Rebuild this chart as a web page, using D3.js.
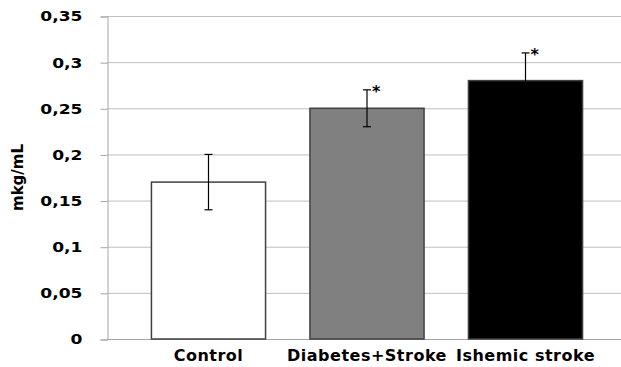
<!DOCTYPE html>
<html>
<head>
<meta charset="utf-8">
<script src="https://cdn.jsdelivr.net/npm/d3@7"></script>
<style>
  body { margin: 0; background: #fff; }
  svg text { font-family: "DejaVu Sans", Verdana, sans-serif; font-weight: bold; fill: #000; }
</style>
</head>
<body>
<svg id="chart" width="621" height="367"></svg>
<script>
// chart values
var groups = ['Control', 'Diabetes+Stroke', 'Ishemic stroke'];
var means = [0.17, 0.25, 0.28];
var errLow = [0.14, 0.23, 0.25];
var errHigh = [0.20, 0.27, 0.31];
var marks = ['', '*', '*'];
var barColors = ['#ffffff', '#808080', '#000000'];
var yTicks = [0, 0.05, 0.1, 0.15, 0.2, 0.25, 0.3, 0.35];

var svg = d3.select('#chart');

var plot = { left: 107, right: 621, top: 16, bottom: 339 };

var y = d3.scaleLinear().domain([0, 0.35]).range([plot.bottom, plot.top]);

var x = d3.scaleBand()
  .domain(groups)
  .range([129.25, 604.75])
  .paddingInner(0.28)
  .paddingOuter(0.14);

var fmt = function(d) { return String(d).replace('.', ','); };

// stretch a text horizontally, the reference font is wide
function widen(sel, k) {
  sel.each(function() {
    var w = this.getComputedTextLength();
    d3.select(this)
      .attr('textLength', w * k)
      .attr('lengthAdjust', 'spacingAndGlyphs');
  });
}

// gridlines
svg.append('g')
  .selectAll('line')
  .data(yTicks.filter(function(d) { return d > 0; }))
  .enter().append('line')
  .attr('x1', plot.left).attr('x2', plot.right)
  .attr('y1', function(d) { return y(d) + 0.5; })
  .attr('y2', function(d) { return y(d) + 0.5; })
  .attr('stroke', '#bfbfbf')
  .attr('stroke-width', 1);

// y axis
var yAxis = svg.append('g')
  .attr('transform', 'translate(' + (plot.left + 0.5) + ',0.5)')
  .call(d3.axisLeft(y).tickValues(yTicks).tickFormat(fmt).tickSize(7).tickPadding(18));
yAxis.select('.domain').attr('stroke', '#a6a6a6');
yAxis.selectAll('.tick line').attr('stroke', '#a6a6a6');
yAxis.selectAll('.tick text')
  .attr('font-size', 14)
  .attr('font-family', '"DejaVu Sans", Verdana, sans-serif')
  .attr('font-weight', 'bold')
  .attr('fill', '#000')
  .call(widen, 1.22);

// x baseline
svg.append('line')
  .attr('x1', plot.left).attr('x2', plot.right)
  .attr('y1', plot.bottom + 0.5).attr('y2', plot.bottom + 0.5)
  .attr('stroke', '#a6a6a6');

// bars
svg.append('g')
  .selectAll('rect')
  .data(groups)
  .enter().append('rect')
  .attr('x', function(d) { return x(d); })
  .attr('y', function(d, i) { return y(means[i]); })
  .attr('width', x.bandwidth())
  .attr('height', function(d, i) { return plot.bottom - y(means[i]); })
  .attr('fill', function(d, i) { return barColors[i]; })
  .attr('stroke', '#404040')
  .attr('stroke-width', 1.5);

// error bars
var eb = svg.append('g')
  .selectAll('g')
  .data(groups)
  .enter().append('g')
  .attr('transform', function(d) { return 'translate(' + (x(d) + x.bandwidth() / 2) + ',0)'; });

eb.append('line')
  .attr('x1', 0).attr('x2', 0)
  .attr('y1', function(d, i) { return y(errHigh[i]); })
  .attr('y2', function(d, i) { return y(errLow[i]); })
  .attr('stroke', '#000')
  .attr('stroke-width', 1.2);

eb.append('line')
  .attr('x1', -4).attr('x2', 4)
  .attr('y1', function(d, i) { return y(errHigh[i]); })
  .attr('y2', function(d, i) { return y(errHigh[i]); })
  .attr('stroke', '#000')
  .attr('stroke-width', 1.2);

eb.append('line')
  .attr('x1', -4).attr('x2', 4)
  .attr('y1', function(d, i) { return y(errLow[i]); })
  .attr('y2', function(d, i) { return y(errLow[i]); })
  .attr('stroke', '#000')
  .attr('stroke-width', 1.2);

eb.append('text')
  .attr('x', 5)
  .attr('y', function(d, i) { return y(errHigh[i]) + 7; })
  .attr('font-size', 16)
  .text(function(d, i) { return marks[i]; });

// x labels
svg.append('g')
  .selectAll('text')
  .data(groups)
  .enter().append('text')
  .attr('x', function(d) { return x(d) + x.bandwidth() / 2; })
  .attr('y', 361)
  .attr('text-anchor', 'middle')
  .attr('font-size', 16)
  .attr('letter-spacing', 0.5)
  .text(function(d) { return d; });

// y label
svg.append('text')
  .attr('transform', 'translate(23,' + ((plot.top + plot.bottom) / 2) + ') rotate(-90)')
  .attr('text-anchor', 'middle')
  .attr('font-size', 15)
  .text('mkg/mL');
</script>
</body>
</html>
